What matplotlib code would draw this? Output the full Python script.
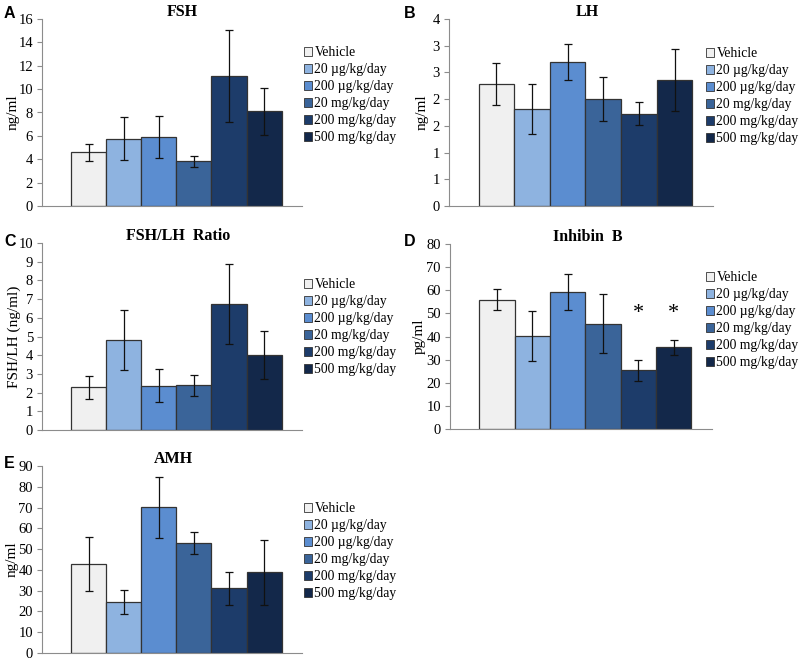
import matplotlib
matplotlib.use("Agg")
import matplotlib.pyplot as plt
from matplotlib.patches import Patch

# ---------------- data ----------------
groups = ["Vehicle", "20 \u00b5g/kg/day", "200 \u00b5g/kg/day",
          "20 mg/kg/day", "200 mg/kg/day", "500 mg/kg/day"]
colors = ["#F0F0F0", "#8EB3E0", "#5B8DD0", "#3A6499", "#1D3C6A", "#13284A"]

fsh_mean = [4.6, 5.76, 5.93, 3.82, 11.12, 8.1]
fsh_err = [0.72, 1.84, 1.8, 0.48, 3.95, 2.0]

lh_mean = [2.28, 1.81, 2.70, 2.0, 1.73, 2.35]
lh_err = [0.39, 0.47, 0.34, 0.41, 0.22, 0.58]
lh_ticks = [0, 0.5, 1.0, 1.5, 2.0, 2.5, 3.0, 3.5]
lh_ticklabels = ["0", "1", "1", "2", "2", "3", "3", "4"]

ratio_mean = [2.28, 4.83, 2.37, 2.38, 6.74, 4.03]
ratio_err = [0.6, 1.6, 0.88, 0.58, 2.15, 1.28]

inh_mean = [56.0, 40.3, 59.1, 45.5, 25.3, 35.4]
inh_err = [4.7, 10.8, 7.8, 12.7, 4.5, 3.3]
inh_star = [False, False, False, False, True, True]
inh_star_level = 50

amh_mean = [42.9, 24.4, 70.1, 52.9, 31.2, 38.9]
amh_err = [12.9, 5.8, 14.6, 5.3, 8.0, 15.6]

serif = ["Liberation Serif", "DejaVu Serif"]
sans = ["Liberation Sans", "DejaVu Sans"]
W, H = 799, 661

fig = plt.figure(figsize=(W / 100, H / 100), dpi=100)


def px_axes(left, right, top, bottom):
    return fig.add_axes([left / W, 1 - bottom / H, (right - left) / W, (bottom - top) / H])


def panel(ax, means, errs, ymax, ystep, title, title_x, ylabel, ylabel_x, letter, letter_xy,
          leg_xy, ticks=None, ticklabels=None):
    x = list(range(len(means)))
    ax.bar(x, means, width=1.0, color=colors, edgecolor="#333333", linewidth=0.9,
           yerr=errs, capsize=3, error_kw=dict(ecolor="#111111", elinewidth=0.9, capthick=0.9),
           zorder=2)
    ax.set_xlim(-1.33, 6.08)
    ax.set_ylim(0, ymax)
    if ticks is None:
        ticks = [i * ystep for i in range(int(round(ymax / ystep)) + 1)]
        ticklabels = [str(int(t)) for t in ticks]
    ax.set_yticks(ticks)
    ax.set_yticklabels(ticklabels, fontfamily=serif, fontsize=10.5)
    ax.set_xticks([])
    for s in ["top", "right"]:
        ax.spines[s].set_visible(False)
    ax.spines["left"].set_color("#8C8C8C")
    ax.spines["bottom"].set_color("#8C8C8C")
    ax.tick_params(axis="y", direction="out", length=3.5, color="#8C8C8C", pad=3)
    pos = ax.get_position()
    axw = pos.width * W
    axh = pos.height * H
    ax.set_ylabel(ylabel, fontfamily=serif, fontsize=11)
    ax.yaxis.set_label_coords(ylabel_x / axw, 0.5)
    ax.yaxis.label.set_verticalalignment("center")
    tx = (title_x / W - pos.x0) / pos.width
    ax.text(tx, 1 + 7 / axh, title, transform=ax.transAxes, ha="center", va="center",
            fontfamily=serif, fontsize=11.5, fontweight="bold")
    fig.text(letter_xy[0] / W, 1 - letter_xy[1] / H, letter, ha="left", va="center",
             fontfamily=sans, fontsize=11.5, fontweight="bold")
    handles = [Patch(facecolor=c, edgecolor="#333333", linewidth=0.6) for c in colors]
    ax.legend(handles, groups, loc="upper left",
              bbox_to_anchor=(leg_xy[0] / W, 1 - leg_xy[1] / H),
              bbox_transform=fig.transFigure, frameon=False,
              prop=dict(family=serif, size=9.8), handlelength=0.62, handleheight=0.62,
              handletextpad=0.15, labelspacing=0.3, borderpad=0, borderaxespad=0)


axA = px_axes(42, 302, 19, 206)
panel(axA, fsh_mean, fsh_err, 16, 2, "FSH", 182, "ng/ml", -29, "A", (4, 13), (304, 46))

axB = px_axes(449, 713, 19, 206)
panel(axB, lh_mean, lh_err, 3.5, 0.5, "LH", 587, "ng/ml", -27, "B", (404, 13), (706, 47),
      ticks=lh_ticks, ticklabels=lh_ticklabels)

axC = px_axes(42, 302, 243, 430)
panel(axC, ratio_mean, ratio_err, 10, 1, "FSH/LH  Ratio", 178, "FSH/LH (ng/ml)", -28, "C",
      (4, 241), (304, 278))

axD = px_axes(450, 712, 244, 429)
panel(axD, inh_mean, inh_err, 80, 10, "Inhibin  B", 588, "pg/ml", -31, "D", (404, 241),
      (706, 271))
for i, flag in enumerate(inh_star):
    if flag:
        axD.text(i, inh_star_level, "*", ha="center", va="center",
                 fontfamily=serif, fontsize=16)

axE = px_axes(42, 302, 466, 653)
panel(axE, amh_mean, amh_err, 90, 10, "AMH", 173, "ng/ml", -30, "E", (4, 463), (304, 502))

fig.savefig("out.png", dpi=100)
